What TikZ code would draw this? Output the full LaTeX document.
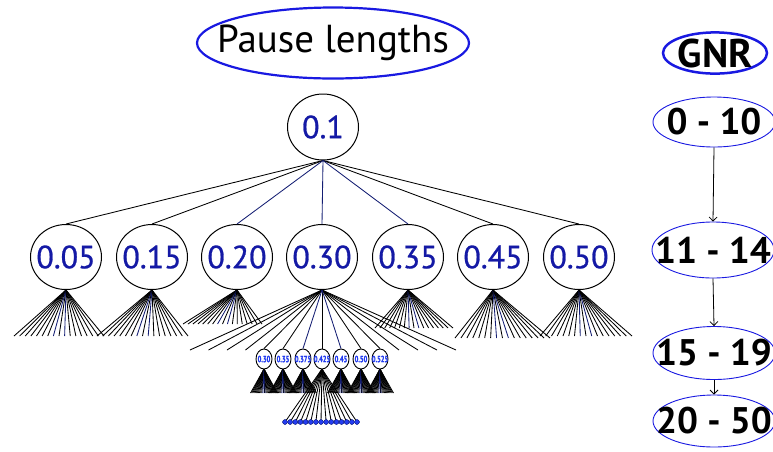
\documentclass[tikz,border=0pt]{standalone}
\usepackage{fontspec}
\usepackage{graphicx}
\setmainfont{PT Sans}
\usetikzlibrary{shapes.geometric,arrows.meta}

\definecolor{numblue}{RGB}{20,25,165}
\definecolor{ringblue}{RGB}{25,25,225}
\definecolor{navy}{RGB}{20,30,115}
\definecolor{dotblue}{RGB}{35,60,240}

% text of fixed-size ellipses: zero width so the outline keeps its size
\newcommand{\fixtxt}[1]{\makebox[0pt]{#1}}
\newcommand{\narrowtxt}[1]{\makebox[0pt]{\scalebox{0.72}[1]{#1}}}

\begin{document}
\begin{tikzpicture}[x=1pt,y=-1pt,
  titlebox/.style={ellipse, draw=ringblue, line width=2.2pt, inner sep=0pt},
  valnode/.style={ellipse, draw=black, line width=1pt, fill=white,
    minimum width=71pt, minimum height=65pt, inner sep=0pt,
    font=\addfontfeature{FakeBold=0.8}\fontsize{32}{32}\selectfont, text=numblue},
  subnode/.style={ellipse, draw=black, line width=0.9pt, fill=white,
    minimum width=16pt, minimum height=20pt, inner sep=0pt,
    font=\addfontfeature{FakeBold=1.5}\bfseries\fontsize{9}{9}\selectfont, text=dotblue},
  rangenode/.style={ellipse, draw=ringblue, line width=0.9pt,
    minimum width=122pt, inner sep=0pt,
    font=\bfseries\fontsize{37}{37}\selectfont},
  fanline/.style={line width=0.85pt, black},
  navyline/.style={line width=0.85pt, navy},
  leaf/.style={circle, fill=dotblue, draw=navy, line width=0.3pt,
    minimum size=4.8pt, inner sep=0pt},
  gnrarrow/.style={-{Straight Barb[length=4pt,width=8pt]}, line width=0.8pt}
]
\useasboundingbox (0,0) rectangle (773,451);

% ---------- pause-length tree ----------
\node[titlebox, minimum width=272pt, minimum height=71pt,
      font=\fontsize{39}{39}\selectfont] (pause) at (333,43) {\fixtxt{Pause lengths}};

\node[valnode, minimum height=66pt] (root) at (323,127) {\fixtxt{0.1}};

% fans below the first-level nodes: x, left spread, right spread, bottom y
\foreach \i/\x/\lo/\hi/\yb in {
    1/66/-52/38/336,
    2/152/-55/36/336,
    3/237/-54/25/324,
    5/408/-33/45/328,
    6/493/-38/57/338,
    7/579/-39/53/336}{
  \foreach \k in {0,...,16}{
    \coordinate (f\i-\k) at ({\x+\lo+\k*(\hi-\lo)/16},\yb);
  }
}

% sub-tree fan ends of the 0.30 node
\foreach \k/\xe in {1/190,2/208.5,3/227,4/245.5,5/399,6/418,7/437,8/456}{
  \coordinate (g\k) at (\xe,350);
}

% draw fans first so that nodes cover the apex
\foreach \i/\x in {1/66,2/152,3/237,5/408,6/493,7/579}{
  \foreach \k in {0,...,16}{
    \ifnum\k=7 \draw[navyline] (\x,290) -- (f\i-\k);
    \else\ifnum\k=9 \draw[navyline] (\x,290) -- (f\i-\k);
    \else \draw[fanline] (\x,290) -- (f\i-\k); \fi\fi
  }
}

\foreach \i/\x/\lab in {1/66/0.05,2/152/0.15,3/237/0.20,4/322/0.30,
                        5/408/0.35,6/493/0.45,7/579/0.50}{
  \node[valnode] (l\i) at (\x,257) {\fixtxt{\lab}};
}

% root to first level
\foreach \i in {1,2,6,7}{ \draw[fanline] (root.south) -- (l\i.north); }
\foreach \i in {3,4,5}{ \draw[navyline] (root.south) -- (l\i.north); }

% fan ends below the small nodes
\foreach \j/\x in {1/264,2/283,3/303,4/322,5/341,6/361,7/380}{
  \foreach \k in {0,...,24}{
    \coordinate (h\j-\k) at ({\x-13.5+\k*27/24},393);
  }
}

% dense fans under the small nodes
\foreach \j/\x in {1/264,2/283,3/303,5/341,6/361,7/380}{
  \foreach \k in {0,...,24}{
    \ifnum\k=11 \draw[navyline] (\x,369) -- (h\j-\k);
    \else\ifnum\k=13 \draw[navyline] (\x,369) -- (h\j-\k);
    \else \draw[fanline, line width=0.8pt] (\x,369) -- (h\j-\k); \fi\fi
  }
}

% leaves under 0.425
\foreach \k in {0,...,14}{
  \node[leaf] (d\k) at ({285+\k*72/14},422) {};
}
\foreach \k in {0,...,14}{
  \draw[fanline] (322,369) -- (d\k.center);
}
\foreach \k in {0,...,14}{
  \node[leaf] at (d\k.center) {};
}

\foreach \j/\x/\lab in {1/264/0.30,2/283/0.35,3/303/0.375,4/322/0.425,
                        5/341/0.45,6/361/0.50,7/380/0.525}{
  \node[subnode] (s\j) at (\x,359) {\narrowtxt{\lab}};
}

\foreach \k in {1,...,8}{ \draw[fanline] (l4.south) -- (g\k); }
\foreach \j in {1,2,4,6,7}{ \draw[fanline] (l4.south) -- (s\j.north); }
\foreach \j in {3,5}{ \draw[navyline] (l4.south) -- (s\j.north); }

% ---------- GNR column ----------
\node[titlebox, line width=2.5pt, minimum width=104pt, minimum height=40pt,
      font=\bfseries\fontsize{40}{40}\selectfont] (gnr) at (715,53) {\fixtxt{GNR}};

\node[rangenode, minimum height=50pt] (r1) at (714,122) {\fixtxt{0 - 10}};
\node[rangenode, minimum height=56pt] (r2) at (713,250) {\fixtxt{11 - 14}};
\node[rangenode, minimum height=53pt] (r3) at (714,353) {\fixtxt{15 - 19}};
\node[rangenode, minimum height=52pt] (r4) at (714,421) {\fixtxt{20 - 50}};

\draw[gnrarrow] (r1.south) -- (r2.north);
\draw[gnrarrow] (r2.south) -- (r3.north);
\draw[gnrarrow] (r3.south) -- (r4.north);
\end{tikzpicture}
\end{document}
